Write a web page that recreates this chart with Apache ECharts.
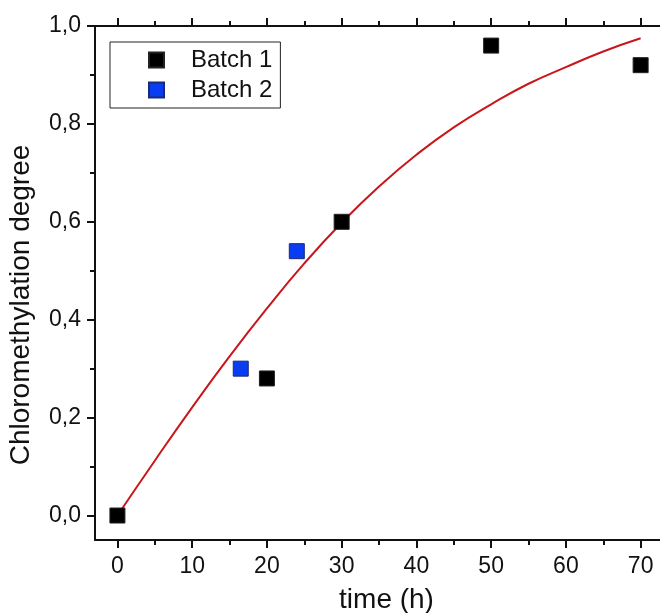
<!DOCTYPE html>
<html>
<head>
<meta charset="utf-8">
<script src="https://cdn.jsdelivr.net/npm/echarts@6/dist/echarts.min.js"></script>
<style>
html,body{margin:0;padding:0;background:#fff;}
#chart{width:660px;height:613px;}
</style>
</head>
<body>
<div id="chart"></div>
<script>
// Data
const batch1 = [[0, 0.0], [20, 0.28], [30, 0.60], [50, 0.96], [70, 0.92]];
const batch2 = [[16.5, 0.30], [24, 0.54]];
const fitX = [0, 5, 10, 15, 20, 25, 30, 35, 40, 45, 50, 55, 60, 65, 70];
const fitY = [0.0, 0.112, 0.221, 0.325, 0.423, 0.515, 0.598, 0.672, 0.737, 0.793, 0.840, 0.882, 0.916, 0.948, 0.975];
const xMajor = [0, 10, 20, 30, 40, 50, 60, 70];
const xMinor = [5, 15, 25, 35, 45, 55, 65];
const yMajor = [0, 0.2, 0.4, 0.6, 0.8, 1.0];
const yMinor = [0.1, 0.3, 0.5, 0.7, 0.9];

const FONT = 'Liberation Sans';
const fitData = fitX.map((x, i) => [x, fitY[i]]);

const chart = echarts.init(document.getElementById('chart'), null, {renderer: 'canvas'});

function xAx(pos, ticks, len, showLine, showLabel, name) {
  return {
    type: 'value', position: pos, min: -3, max: 75,
    name: name || '', nameLocation: 'middle', nameGap: 46,
    nameTextStyle: {fontFamily: FONT, fontSize: 28, color: '#111'},
    axisLine: {show: showLine, onZero: false, lineStyle: {color: '#111', width: 2}},
    axisTick: {show: true, inside: false, length: len, customValues: ticks, lineStyle: {color: '#111', width: 2}},
    axisLabel: {show: showLabel, customValues: ticks, fontFamily: FONT, fontSize: 23, color: '#111', margin: 15},
    splitLine: {show: false}
  };
}
function yAx(ticks, len, showLine, showLabel, name) {
  return {
    type: 'value', position: 'left', min: -0.05, max: 1.0,
    name: name || '', nameLocation: 'middle', nameGap: 60,
    nameTextStyle: {fontFamily: FONT, fontSize: 28, color: '#111', padding: [0, 44, 0, 0]},
    axisLine: {show: showLine, onZero: false, lineStyle: {color: '#111', width: 2}},
    axisTick: {show: true, inside: false, length: len, customValues: ticks, lineStyle: {color: '#111', width: 2}},
    axisLabel: {show: showLabel, customValues: ticks, fontFamily: FONT, fontSize: 23, color: '#111', margin: 14,
      formatter: v => v.toFixed(1).replace('.', ',')},
    splitLine: {show: false}
  };
}

chart.setOption({
  animation: false,
  backgroundColor: '#fff',
  grid: {left: 95, top: 26, width: 583, height: 514, containLabel: false, outerBoundsMode: 'none'},
  xAxis: [
    xAx('bottom', xMajor, 8, true, true, 'time (h)'),
    xAx('bottom', xMinor, 5, false, false),
    xAx('top', xMajor, 8, true, false),
    xAx('top', xMinor, 5, false, false)
  ],
  yAxis: [
    yAx(yMajor, 8, true, true, 'Chloromethylation degree'),
    yAx(yMinor, 5, false, false)
  ],
  legend: {
    orient: 'vertical', left: 110, top: 42,
    padding: [6, 8, 6, 38], itemGap: 6,
    itemWidth: 15, itemHeight: 15,
    borderColor: '#222', borderWidth: 1,
    data: [{name: 'Batch 1', icon: 'rect'}, {name: 'Batch 2', icon: 'rect'}],
    textStyle: {fontFamily: FONT, fontSize: 24, color: '#111', padding: [0, 0, 0, 22]}
  },
  series: [
    {
      name: 'Fit', type: 'line', data: fitData, smooth: true, showSymbol: false, symbol: 'none',
      lineStyle: {color: '#c8171c', width: 2}, z: 2
    },
    {
      name: 'Batch 1', type: 'scatter', data: batch1, symbol: 'rect', symbolSize: 15,
      itemStyle: {color: '#000', opacity: 1, borderColor: '#222', borderWidth: 1}, z: 3
    },
    {
      name: 'Batch 2', type: 'scatter', data: batch2, symbol: 'rect', symbolSize: 15,
      itemStyle: {color: '#0a3cf2', opacity: 1, borderColor: '#1a2a7a', borderWidth: 1}, z: 3
    }
  ]
});
</script>
</body>
</html>
